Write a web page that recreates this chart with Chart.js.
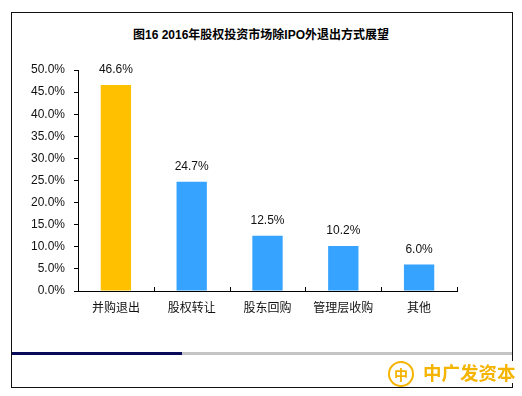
<!DOCTYPE html>
<html>
<head>
<meta charset="utf-8">
<script src="https://cdn.jsdelivr.net/npm/chart.js@4"></script>
<style>
  html, body { margin:0; padding:0; background:#fff; }
  #wrap { position:relative; width:522px; height:396px; overflow:hidden; }
  #frame { position:absolute; left:11px; top:12px; width:500px; height:374px; border:1.5px solid #111; box-sizing:content-box; }
  #title { position:absolute; left:0; width:522px; top:25px; text-align:center; font:bold 12px "Liberation Sans", Arial, "Noto Sans CJK SC", sans-serif; color:#000; }
  #chart { position:absolute; left:0; top:0; }
  #navy { position:absolute; left:12px; top:352px; width:170px; height:3px; background:#0a0a5a; }
  #gray { position:absolute; left:182px; top:352px; width:330px; height:3px; background:#c4c4c4; }
  #logoc { position:absolute; left:388px; top:361px; width:22px; height:22px; border:2.5px solid #f5b400; border-radius:50%; color:#f5b400; font:bold 14px "Noto Sans CJK SC", sans-serif; text-align:center; line-height:22px; background:#fff; }
  #logot { position:absolute; left:423px; top:361px; font:bold 18.5px "Noto Sans CJK SC", sans-serif; color:#f5b400; line-height:22px; background:#fff; }
</style>
</head>
<body>
<div id="wrap">
  <div id="frame"></div>
  <div id="title">图16 2016年股权投资市场除IPO外退出方式展望</div>
  <canvas id="chart" width="522" height="396"></canvas>
  <div id="navy"></div>
  <div id="gray"></div>
  <div id="logoc">中</div>
  <div id="logot">中广发资本</div>
</div>
<script>
const categories = ['并购退出', '股权转让', '股东回购', '管理层收购', '其他'];
const values = [46.6, 24.7, 12.5, 10.2, 6.0];
const barColors = ['#FFC000', '#35A3FF', '#35A3FF', '#35A3FF', '#35A3FF'];
const yTicks = [0, 5, 10, 15, 20, 25, 30, 35, 40, 45, 50];

const FONT = '"Liberation Sans", Arial, "Noto Sans CJK SC", sans-serif';

const labelPlugin = {
  id: 'valueLabels',
  afterDatasetsDraw(chart) {
    const ctx = chart.ctx;
    const meta = chart.getDatasetMeta(0);
    ctx.save();
    ctx.font = '12px ' + FONT;
    ctx.fillStyle = '#111';
    ctx.textAlign = 'center';
    ctx.textBaseline = 'bottom';
    meta.data.forEach((bar, i) => {
      ctx.fillText(values[i].toFixed(1) + '%', bar.x, bar.y - 9);
    });
    ctx.restore();
  }
};

const xTickPlugin = {
  id: 'xTicksInside',
  afterDraw(chart) {
    const xs = chart.scales.x;
    const ctx = chart.ctx;
    const n = categories.length;
    const w = (xs.right - xs.left) / n;
    ctx.save();
    ctx.strokeStyle = '#000';
    ctx.lineWidth = 1;
    for (let i = 1; i <= n; i++) {
      const px = Math.round(xs.left + i * w) + 0.5;
      ctx.beginPath();
      ctx.moveTo(px, xs.top);
      ctx.lineTo(px, xs.top - 4);
      ctx.stroke();
    }
    ctx.restore();
  }
};

new Chart(document.getElementById('chart'), {
  type: 'bar',
  data: {
    labels: categories,
    datasets: [{
      data: values,
      backgroundColor: barColors,
      borderWidth: 0,
      categoryPercentage: 1.0,
      barPercentage: 0.4
    }]
  },
  options: {
    responsive: false,
    animation: false,
    layout: { padding: { top: 70, right: 65, bottom: 75, left: 0 } },
    plugins: { legend: { display: false }, tooltip: { enabled: false } },
    scales: {
      x: {
        grid: { display: false, drawTicks: false },
        border: { display: true, color: '#000', width: 1 },
        ticks: { padding: 9, color: '#111', font: { size: 12, family: '"Noto Sans CJK SC", sans-serif' } },
        afterFit(scale) { scale.height = 30; }
      },
      y: {
        min: 0, max: 50,
        afterBuildTicks(scale) { scale.ticks = yTicks.map(v => ({ value: v })); },
        grid: { display: true, drawOnChartArea: false, drawTicks: true, tickLength: 4, color: '#000' },
        border: { display: true, color: '#000', width: 1 },
        ticks: { padding: 9, color: '#111', font: { size: 12, family: FONT },
          callback: v => Number(v).toFixed(1) + '%' },
        afterFit(scale) { scale.width = 78; }
      }
    }
  },
  plugins: [labelPlugin, xTickPlugin]
});
</script>
</body>
</html>
